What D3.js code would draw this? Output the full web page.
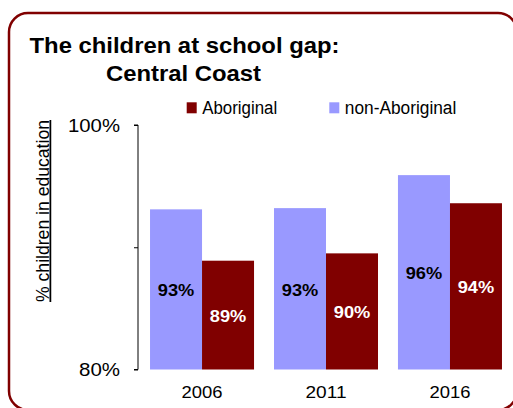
<!DOCTYPE html>
<html>
<head>
<meta charset="utf-8">
<script src="https://cdn.jsdelivr.net/npm/d3@7"></script>
<style>
  html, body { margin: 0; padding: 0; background: #fff; }
  svg { display: block; font-family: "Liberation Sans", Arial, sans-serif; }
</style>
</head>
<body>
<svg id="chart" width="513" height="408"></svg>
<script>
const years = ["2006", "2011", "2016"];
const seriesNames = ["non-Aboriginal", "Aboriginal"];
const nonAboriginal = [93.1, 93.2, 95.9];
const aboriginal = [88.9, 89.5, 93.6];
const barLabelsNon = ["93%", "93%", "96%"];
const barLabelsAbo = ["89%", "90%", "94%"];
const yTicks = [80, 90, 100];
const yTickLabels = ["80%", "", "100%"];
const colors = { "non-Aboriginal": "#9999ff", "Aboriginal": "#800000" };
const labelColors = { "non-Aboriginal": "#000", "Aboriginal": "#fff" };

const svg = d3.select("#chart");

// frame
svg.append("rect")
  .attr("x", 9).attr("y", 13).attr("width", 508).attr("height", 397)
  .attr("rx", 19).attr("ry", 19)
  .attr("fill", "none").attr("stroke", "#800000").attr("stroke-width", 2.5);

// title
svg.append("text").attr("font-weight", "bold").attr("font-size", 22).attr("fill", "#000")
  .attr("x", 29.5).attr("y", 53)
  .attr("textLength", 310).attr("lengthAdjust", "spacingAndGlyphs")
  .text("The children at school gap:");
svg.append("text").attr("font-weight", "bold").attr("font-size", 22).attr("fill", "#000")
  .attr("x", 106).attr("y", 81)
  .attr("textLength", 155).attr("lengthAdjust", "spacingAndGlyphs")
  .text("Central Coast");

const x0 = d3.scaleBand().domain(years).range([138, 514]).paddingInner(0.161).paddingOuter(0.097);
const x1 = d3.scaleBand().domain(seriesNames).range([0, x0.bandwidth()]);
const y = d3.scaleLinear().domain([80, 100]).range([369.5, 125]);

// bars
const data = years.map((yr, i) => ({
  year: yr,
  values: [
    { key: "non-Aboriginal", value: nonAboriginal[i], label: barLabelsNon[i] },
    { key: "Aboriginal", value: aboriginal[i], label: barLabelsAbo[i] }
  ]
}));

const g = svg.selectAll("g.grp").data(data).join("g")
  .attr("class", "grp")
  .attr("transform", d => `translate(${x0(d.year)},0)`);

g.selectAll("rect").data(d => d.values).join("rect")
  .attr("x", d => x1(d.key))
  .attr("y", d => y(d.value))
  .attr("width", x1.bandwidth())
  .attr("height", d => y(80) - y(d.value))
  .attr("fill", d => colors[d.key]);

g.selectAll("text.lbl").data(d => d.values).join("text")
  .attr("class", "lbl")
  .attr("x", d => x1(d.key) + x1.bandwidth() / 2 - 18.25)
  .attr("y", d => (y(d.value) + y(80)) / 2)
  .attr("dy", "0.42em")
  .attr("font-weight", "bold")
  .attr("font-size", 16.5)
  .attr("textLength", 36.5).attr("lengthAdjust", "spacingAndGlyphs")
  .attr("fill", d => labelColors[d.key])
  .text(d => d.label);

// y axis
const yAxis = d3.axisLeft(y).tickValues(yTicks).tickSize(4).tickPadding(14)
  .tickFormat((d, i) => yTickLabels[i]);
const ya = svg.append("g").attr("transform", "translate(138,0)").call(yAxis);
ya.select(".domain").attr("stroke", "#000").attr("d", `M-4,${y(100)}H0V${y(80)}H-4`);
ya.selectAll("line").attr("stroke", "#000");
ya.selectAll("text")
  .attr("font-size", 19).attr("fill", "#000")
  .attr("font-family", "'Liberation Sans', Arial, sans-serif")
  .attr("text-anchor", "start")
  .attr("x", d => d === 100 ? -70 : -59)
  .attr("textLength", d => d === 100 ? 52 : 41)
  .attr("lengthAdjust", "spacingAndGlyphs");

// x labels
const xAxis = d3.axisBottom(x0).tickSize(0).tickPadding(16);
const xa = svg.append("g").attr("transform", `translate(0,${y(80)})`).call(xAxis);
xa.select(".domain").remove();
xa.selectAll("text").attr("font-size", 17).attr("fill", "#000")
  .attr("font-family", "'Liberation Sans', Arial, sans-serif")
  .attr("text-anchor", "start")
  .attr("x", -20.5)
  .attr("textLength", 41).attr("lengthAdjust", "spacingAndGlyphs");

// y axis title
svg.append("text")
  .attr("transform", `translate(48.5,302) rotate(-90)`)
  .attr("font-size", 17.5)
  .attr("text-decoration", "underline")
  .attr("textLength", 182).attr("lengthAdjust", "spacingAndGlyphs")
  .attr("fill", "#000")
  .text("% children in education");

// legend
const legendItems = [
  { key: "Aboriginal", x: 186.7, len: 75 },
  { key: "non-Aboriginal", x: 329.3, len: 111.5 }
];
const lg = svg.selectAll("g.leg").data(legendItems).join("g")
  .attr("class", "leg")
  .attr("transform", d => `translate(${d.x},102.3)`);
lg.append("rect").attr("width", 10).attr("height", 11).attr("fill", d => colors[d.key]);
lg.append("text").attr("x", 15.5).attr("y", 11.7).attr("font-size", 18).attr("fill", "#000")
  .attr("textLength", d => d.len).attr("lengthAdjust", "spacingAndGlyphs")
  .text(d => d.key);
</script>
</body>
</html>
